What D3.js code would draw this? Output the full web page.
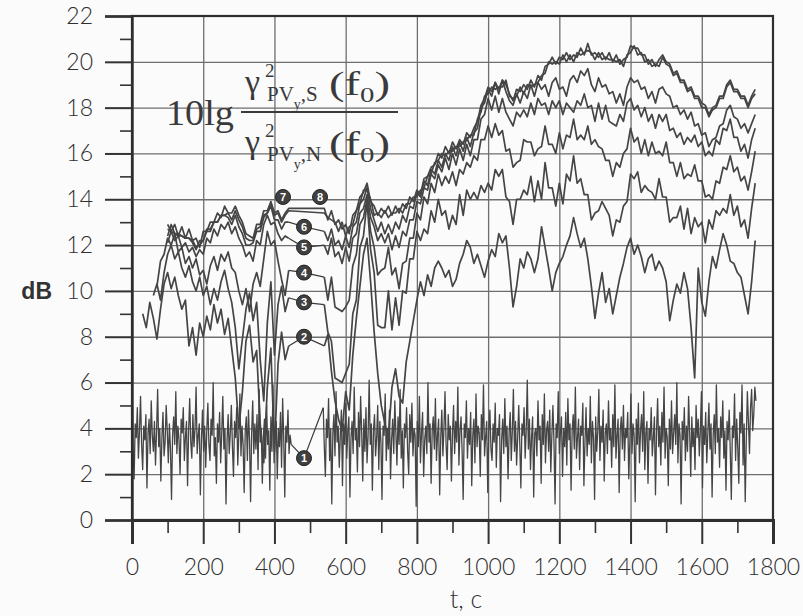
<!DOCTYPE html>
<html>
<head>
<meta charset="utf-8">
<script src="https://cdn.jsdelivr.net/npm/d3@7"></script>
<style>
  body { margin: 0; background: #fbfbfb; }
  svg { display: block; }
</style>
</head>
<body>
<div id="chart"></div>
<script>
// axis ticks
var xTicks = [0, 200, 400, 600, 800, 1000, 1200, 1400, 1600, 1800];
var xMinor = [100, 300, 500, 700, 900, 1100, 1300, 1500, 1700];
var yTicks = [0, 2, 4, 6, 8, 10, 12, 14, 16, 18, 20, 22];
var yMinor = [1, 3, 5, 7, 9, 11, 13, 15, 17, 19, 21];

// curve 1 (noise), 3 s step: piece A from 0 s, piece B from 537 s
var line1Step = 3;
var line1Starts = [0, 537];
var line1A = [
  5.9, 3.1, 1.8, 4.2, 3.6, 4.9, 2.7, 3.9, 5.4, 3.3,
  2.2, 4.1, 3.5, 4.6, 1.4, 3.8, 4.4, 2.9, 5.2, 3.7,
  3.0, 4.3, 2.4, 3.9, 5.7, 3.2, 4.0, 1.7, 3.6, 4.7,
  2.8, 3.4, 5.0, 3.9, 2.5, 4.2, 3.1, 0.9, 3.7, 4.5,
  3.3, 5.6, 2.9, 4.1, 3.5, 2.0, 4.4, 3.8, 4.9, 2.6,
  3.6, 4.3, 1.5, 3.9, 5.3, 3.4, 2.7, 4.6, 3.2, 4.0,
  5.8, 2.9, 3.7, 4.2, 1.1, 3.5, 4.8, 3.0, 4.1, 2.3,
  3.9, 5.1, 3.3, 2.6, 4.4, 3.7, 6.0, 2.8, 3.6, 1.6,
  4.2, 3.4, 4.7, 2.5, 3.8, 5.4, 3.1, 4.0, 0.7, 3.5,
  4.6, 2.9, 3.8, 5.0, 3.2, 1.9, 4.3, 3.6, 4.9, 2.4,
  3.7, 5.5, 2.8, 4.1, 3.3, 1.2, 3.9, 4.5, 2.6, 4.8,
  3.5, 0.8, 3.8, 5.2, 2.9, 4.2, 3.1, 4.6, 2.2, 5.7,
  3.4, 4.0, 1.6, 3.7, 4.4, 2.7, 5.0, 3.3, 3.9, 1.3,
  4.5, 3.0, 5.9, 2.5, 3.8, 4.3, 1.8, 4.0, 3.2, 4.7,
  2.3, 5.3, 3.6, 1.0, 4.1, 3.4, 4.8, 2.9, 3.7, 3.3
];
var line1B = [
  4.9, 3.2, 1.9, 4.4, 3.6, 5.3, 2.6, 4.0, 0.7, 3.8,
  4.6, 2.8, 5.6, 3.4, 4.1, 2.3, 3.7, 4.8, 1.5, 4.2,
  3.3, 5.1, 2.7, 3.9, 4.5, 1.0, 3.6, 4.3, 2.9, 5.8,
  3.5, 4.0, 2.1, 4.7, 3.2, 5.4, 3.8, 1.7, 4.4, 3.0,
  4.9, 2.5, 3.7, 6.1, 3.3, 4.2, 1.3, 3.9, 4.6, 2.8,
  3.6, 5.0, 2.2, 4.3, 3.4, 0.9, 4.1, 3.7, 5.5, 2.6,
  4.0, 3.1, 4.8, 1.8, 3.5, 4.4, 2.9, 5.2, 3.8, 2.4,
  4.5, 3.3, 5.7, 2.7, 3.9, 1.4, 4.2, 3.6, 4.9, 3.0,
  2.0, 4.6, 3.4, 5.1, 2.8, 4.0, 3.7, 0.6, 4.3, 3.2,
  5.4, 2.5, 3.8, 4.7, 1.9, 3.5, 4.1, 2.9, 6.0, 3.4,
  4.2, 1.6, 3.9, 4.5, 3.1, 5.3, 2.6, 3.7, 4.4, 1.1,
  3.6, 4.8, 2.8, 4.0, 5.6, 3.3, 2.2, 4.6, 3.5, 4.1,
  1.7, 3.8, 5.0, 2.9, 4.3, 3.4, 5.8, 2.4, 3.9, 4.5,
  3.0, 0.9, 4.2, 3.6, 5.2, 2.7, 4.0, 3.3, 4.7, 1.5,
  3.7, 4.4, 2.5, 5.5, 3.2, 4.1, 3.8, 1.9, 4.6, 3.5,
  5.9, 2.8, 3.6, 4.3, 1.2, 3.9, 4.8, 3.1, 2.6, 4.2,
  3.4, 5.1, 2.3, 4.0, 3.7, 4.6, 0.8, 3.5, 4.4, 2.9,
  5.3, 3.2, 4.1, 1.8, 3.8, 4.7, 2.6, 3.9, 5.7, 3.0,
  4.3, 2.4, 3.6, 5.0, 3.3, 1.4, 4.2, 3.7, 4.9, 2.7,
  3.9, 6.1, 3.1, 4.4, 2.2, 3.6, 4.5, 1.0, 3.8, 4.0,
  2.8, 5.2, 3.5, 4.1, 1.6, 4.6, 3.3, 5.5, 2.5, 3.9,
  4.3, 3.0, 4.8, 2.1, 3.7, 5.0, 3.4, 0.7, 4.2, 3.6,
  5.6, 2.9, 3.8, 4.5, 1.9, 4.0, 3.2, 4.7, 2.4, 5.3,
  3.5, 4.2, 1.3, 3.9, 4.6, 3.1, 5.8, 2.7, 3.6, 4.4,
  2.2, 4.1, 3.7, 5.1, 1.5, 3.4, 4.9, 2.8, 4.0, 3.3,
  5.4, 2.5, 4.3, 3.6, 0.9, 4.5, 3.0, 3.9, 5.7, 2.6,
  4.1, 3.4, 4.8, 1.7, 3.8, 4.2, 2.9, 5.2, 3.5, 4.0,
  2.3, 4.6, 3.2, 5.9, 2.7, 3.7, 4.4, 1.2, 3.9, 4.5,
  3.1, 5.0, 2.6, 4.0, 3.6, 4.7, 1.8, 3.4, 5.5, 2.9,
  4.2, 3.7, 0.8, 4.4, 3.3, 5.1, 2.5, 3.9, 4.6, 3.0,
  5.6, 2.2, 3.8, 4.3, 1.6, 4.0, 3.5, 4.9, 2.8, 3.6,
  4.5, 1.1, 3.9, 5.3, 3.2, 4.1, 2.4, 4.7, 3.4, 5.8,
  2.7, 4.0, 3.6, 1.5, 4.4, 3.1, 5.2, 2.9, 3.8, 4.6,
  3.3, 6.0, 2.5, 4.2, 3.7, 0.7, 4.3, 3.5, 4.9, 2.6,
  4.1, 3.0, 5.4, 3.8, 1.9, 4.5, 3.2, 4.0, 2.2, 5.0,
  3.6, 4.4, 2.8, 3.9, 5.6, 1.4, 4.1, 3.3, 4.7, 2.5,
  3.8, 5.1, 3.1, 4.2, 1.0, 3.7, 4.6, 2.9, 5.9, 3.4,
  4.0, 2.3, 4.5, 3.6, 5.2, 2.7, 3.9, 1.3, 4.3, 3.5,
  4.8, 3.0, 0.9, 4.1, 3.6, 5.5, 2.6, 4.4, 3.2, 1.6,
  4.7, 3.8, 5.9, 2.4, 4.2, 0.8, 3.5, 5.6, 4.3, 2.9,
  4.9, 5.7, 3.9, 4.6, 5.8, 5.2
];

// curves 2..8, 10 s step. left piece starts at leftStart and ends at 440 s,
// right piece runs 540..1750 s. curves 7 and 8 run on through the gap.
var curveIds = [2, 3, 4, 5, 6, 7, 8];
var leftStart = [30, 60, 70, 100, 100, 100, 100];
var rightStart = 540;
var upStep = 10;
var bridged = [false, false, false, false, false, true, true];

var line2Left = [
  9.0, 8.4, 9.5, 8.8, 7.9, 9.2, 10.3, 10.8, 10.1, 10.6,
  9.8, 9.2, 9.6, 7.6, 8.4, 7.2, 8.6, 8.0, 8.9, 8.3,
  9.4, 8.6, 9.2, 8.1, 8.8, 7.5, 6.2, 4.0, 5.6, 7.8,
  8.5, 6.9, 7.4, 4.2, 2.5, 5.8, 7.5, 3.0, 6.8, 8.2,
  7.0, 7.6
];
var line3Left = [
  9.8, 10.3, 9.6, 10.8, 11.6, 12.0, 11.4, 11.7, 11.0, 10.6,
  11.1, 10.4, 10.0, 10.6, 9.8, 10.2, 9.4, 10.1, 9.6, 10.4,
  10.9, 10.1, 9.5, 8.4, 6.6, 7.9, 9.2, 9.9, 8.7, 9.5,
  7.0, 5.2, 8.6, 10.4, 7.2, 9.4, 10.2, 9.1, 9.7
];
var line4Left = [
  10.2, 11.3, 11.6, 12.3, 12.0, 12.5, 11.7, 11.9, 11.2, 11.5,
  11.0, 11.4, 10.7, 10.9, 10.3, 11.1, 11.5, 10.9, 11.6, 11.3,
  11.7, 11.0, 10.8, 10.0, 9.4, 10.1, 9.1, 10.3, 10.8, 10.2,
  11.4, 12.6, 12.0, 12.2, 11.3, 10.5, 9.8, 10.9
];
var line5Left = [
  12.1, 12.6, 12.2, 12.4, 11.9, 12.1, 11.7, 11.9, 11.5, 11.8,
  11.6, 12.3, 12.1, 12.7, 12.4, 12.9, 12.7, 13.0, 12.5, 12.8,
  12.3, 12.0, 11.5, 11.7, 11.3, 12.2, 12.0, 12.9, 13.3, 12.9,
  13.0, 12.5, 12.2, 12.4, 12.3
];
var line6Left = [
  12.4, 12.9, 12.5, 12.4, 12.4, 12.3, 12.3, 12.1, 11.8, 12.2,
  12.2, 12.7, 12.7, 13.0, 13.0, 13.3, 13.3, 13.2, 12.9, 13.3,
  12.8, 12.5, 12.0, 12.0, 12.1, 12.6, 12.6, 13.2, 13.4, 13.7,
  13.1, 13.1, 12.7, 13.0, 13.0
];
var line7Left = [
  12.7, 12.6, 12.5, 12.5, 12.4, 12.3, 12.3, 12.2, 11.9, 12.0,
  12.2, 12.6, 12.6, 13.0, 13.0, 13.3, 13.3, 13.4, 13.1, 13.5,
  13.1, 12.8, 12.3, 12.2, 12.2, 12.7, 12.8, 13.3, 13.4, 13.8,
  13.3, 13.4, 13.0, 13.3, 13.5
];
var line8Left = [
  12.9, 12.6, 12.9, 12.4, 12.8, 12.3, 12.7, 12.2, 12.3, 11.9,
  12.6, 12.6, 13.0, 13.0, 13.4, 13.2, 13.7, 13.4, 13.4, 13.7,
  13.3, 13.0, 12.5, 12.4, 12.3, 12.9, 12.9, 13.5, 13.5, 13.9,
  13.4, 13.5, 13.1, 13.4, 13.6
];

var line2Right = [
  7.6, 8.1, 6.5, 5.2, 4.4, 3.9, 5.6, 4.8, 7.2, 8.8,
  10.2, 11.6, 12.3, 10.4, 8.2, 6.4, 5.0, 4.2, 3.6, 5.8,
  6.6, 5.4, 5.1, 6.9, 7.8, 8.7, 9.6, 10.4, 9.8, 10.7,
  10.2, 11.0, 11.3, 11.0, 10.6, 10.9, 10.2, 10.5, 11.2, 11.6,
  12.2, 11.9, 11.2, 11.6, 11.1, 10.6, 11.3, 11.8, 11.5, 12.5,
  12.1, 12.4, 11.0, 9.3, 10.2, 11.4, 11.0, 11.7, 11.4, 10.8,
  11.4, 12.8, 11.9, 11.0, 10.0, 10.8, 11.2, 11.5, 12.0, 12.4,
  13.2, 12.5, 11.9, 12.3, 11.4, 10.2, 8.8, 9.9, 10.8, 9.5,
  10.1, 9.0, 9.8, 10.6, 11.2, 11.9, 12.3, 11.6, 12.0, 11.5,
  10.8, 11.4, 11.6, 10.9, 11.3, 11.0, 10.4, 8.7, 9.6, 10.3,
  9.9, 10.8, 10.1, 8.4, 6.2, 11.0, 9.5, 8.9, 10.4, 11.5,
  11.0, 11.8, 12.5, 12.0, 11.3, 11.2, 10.8, 10.6, 9.8, 9.0,
  10.4, 12.2
];
var line3Right = [
  9.4, 8.2, 7.8, 6.2, 6.1, 6.0, 6.4, 6.8, 9.0, 9.6,
  11.9, 12.4, 13.9, 11.8, 10.8, 8.5, 8.4, 8.4, 10.0, 8.3,
  9.7, 8.5, 10.0, 9.9, 11.4, 11.4, 12.6, 12.2, 12.7, 12.5,
  13.5, 13.0, 14.0, 13.3, 13.5, 12.7, 13.3, 12.9, 14.2, 13.3,
  14.4, 14.0, 14.3, 14.0, 14.6, 14.3, 14.7, 14.4, 15.3, 15.0,
  15.3, 14.1, 13.9, 12.9, 14.0, 14.0, 14.4, 14.2, 15.0, 13.9,
  14.8, 14.0, 15.6, 14.5, 14.5, 13.7, 14.7, 13.8, 15.1, 14.8,
  15.9, 14.7, 14.9, 14.2, 14.2, 13.1, 13.4, 13.5, 13.9, 13.6,
  13.3, 12.4, 13.1, 13.0, 13.7, 13.9, 15.1, 14.9, 15.2, 14.3,
  14.6, 14.4, 14.3, 14.0, 14.9, 14.1, 14.1, 13.0, 13.2, 13.2,
  13.7, 12.7, 13.6, 12.5, 13.2, 12.8, 13.0, 12.1, 13.1, 12.7,
  13.5, 13.3, 13.6, 13.4, 14.2, 13.3, 13.7, 12.8, 13.1, 12.3,
  13.6, 14.7
];
var line4Right = [
  10.6, 9.6, 10.6, 9.3, 9.2, 9.1, 9.3, 9.6, 11.1, 11.6,
  12.9, 13.2, 14.0, 12.6, 11.9, 10.7, 10.9, 11.0, 11.9, 10.7,
  11.0, 10.1, 11.2, 11.3, 12.3, 12.3, 13.4, 13.1, 14.1, 13.8,
  14.7, 14.3, 15.1, 14.6, 15.0, 14.7, 15.2, 14.6, 15.3, 15.1,
  15.6, 15.4, 15.9, 15.7, 16.6, 16.6, 17.2, 16.7, 17.3, 16.8,
  17.0, 16.1, 16.2, 15.4, 15.6, 15.7, 16.6, 16.5, 16.5, 15.9,
  16.2, 16.3, 17.2, 16.4, 16.4, 16.0, 16.9, 16.2, 16.8, 16.7,
  17.5, 16.6, 16.8, 16.6, 17.2, 16.4, 16.6, 16.3, 16.2, 15.7,
  15.7, 15.0, 15.6, 15.4, 16.0, 16.2, 17.1, 16.5, 16.7, 16.0,
  16.6, 15.9, 16.5, 16.0, 16.1, 15.9, 16.5, 15.6, 15.6, 15.0,
  15.6, 14.9, 15.1, 15.0, 15.5, 14.8, 14.8, 14.1, 14.2, 14.0,
  14.8, 14.7, 15.4, 15.3, 15.9, 15.2, 15.4, 14.8, 15.0, 14.4,
  15.2, 16.1
];
var line5Right = [
  12.0, 11.6, 12.3, 11.5, 11.7, 11.2, 11.9, 11.3, 12.3, 12.5,
  13.4, 13.6, 14.2, 13.2, 12.8, 12.2, 12.5, 12.1, 12.5, 11.8,
  12.4, 11.9, 12.6, 12.4, 13.1, 13.1, 13.9, 13.8, 14.5, 14.4,
  15.1, 14.9, 15.5, 15.2, 15.8, 15.3, 16.0, 15.5, 16.2, 15.7,
  16.4, 15.9, 16.6, 16.6, 17.5, 17.7, 18.4, 17.9, 18.5, 17.8,
  18.4, 17.8, 17.5, 17.2, 17.8, 17.6, 17.9, 17.6, 18.2, 17.7,
  18.4, 18.1, 18.2, 17.7, 18.3, 18.0, 18.3, 17.7, 18.2, 18.0,
  17.8, 18.3, 18.1, 18.6, 18.0, 18.1, 17.4, 18.2, 17.5, 18.1,
  17.4, 17.3, 17.2, 17.7, 17.4, 18.2, 18.4, 17.9, 18.1, 17.6,
  18.0, 17.4, 17.7, 17.1, 17.7, 17.4, 17.7, 17.0, 17.1, 16.7,
  16.9, 16.4, 16.7, 16.5, 16.8, 16.3, 16.5, 15.9, 16.1, 15.9,
  16.6, 16.4, 17.1, 17.0, 17.5, 16.7, 16.7, 16.1, 16.4, 15.8,
  16.6, 17.1
];
var line6Right = [
  12.6, 12.2, 12.7, 12.0, 12.2, 11.8, 12.4, 11.9, 12.8, 13.0,
  13.8, 14.0, 14.5, 13.6, 13.1, 12.6, 13.0, 12.5, 12.9, 12.5,
  13.0, 12.7, 13.3, 13.0, 13.7, 13.6, 14.3, 14.1, 14.8, 14.6,
  15.3, 15.1, 15.7, 15.4, 16.0, 15.7, 16.3, 15.9, 16.5, 16.1,
  16.7, 16.3, 16.9, 17.1, 18.0, 18.2, 18.8, 18.5, 19.1, 18.6,
  19.2, 18.7, 18.3, 18.1, 18.6, 18.2, 18.7, 18.4, 19.0, 18.5,
  19.1, 18.8, 19.0, 18.5, 19.1, 19.3, 18.8, 18.9, 18.5, 19.2,
  19.4, 19.1, 19.6, 19.4, 19.7, 19.0, 18.7, 19.3, 18.9, 19.0,
  18.6, 18.7, 18.2, 18.6, 18.1, 18.9, 19.3, 19.1, 19.2, 18.8,
  18.9, 18.4, 18.7, 18.2, 18.8, 18.9, 18.6, 18.5, 18.0, 18.1,
  17.7, 17.9, 17.5, 17.8, 17.2, 17.3, 16.8, 16.9, 16.3, 16.6,
  16.7, 17.2, 17.3, 17.9, 18.1, 17.6, 17.5, 17.1, 17.3, 16.9,
  17.3, 17.7
];
var line7Right = [
  13.4, 13.2, 13.1, 13.0, 12.6, 13.0, 12.4, 12.8, 12.9, 13.5,
  13.8, 14.4, 14.4, 14.0, 13.3, 13.4, 13.2, 13.5, 13.2, 13.4,
  13.4, 13.6, 13.4, 13.8, 13.8, 14.1, 14.1, 14.4, 14.5, 15.0,
  15.1, 15.6, 15.7, 16.0, 15.9, 16.1, 16.1, 16.3, 16.3, 16.5,
  16.6, 16.8, 16.8, 17.5, 17.8, 18.5, 18.6, 18.9, 18.8, 18.9,
  18.9, 19.2, 18.5, 18.4, 18.5, 18.9, 18.6, 19.0, 18.9, 19.0,
  19.1, 19.4, 19.5, 20.0, 19.9, 20.0, 19.9, 20.3, 20.0, 20.3,
  20.0, 20.4, 20.3, 20.4, 20.5, 20.4, 20.1, 20.4, 20.1, 20.2,
  20.1, 20.1, 20.0, 20.1, 19.8, 20.3, 20.4, 20.7, 20.3, 20.4,
  20.0, 20.1, 19.8, 19.9, 19.8, 20.2, 19.9, 19.8, 19.4, 19.5,
  19.1, 19.1, 18.7, 18.8, 18.4, 18.4, 18.0, 18.0, 17.6, 17.9,
  18.0, 18.4, 18.4, 18.9, 19.1, 18.7, 18.7, 18.4, 18.4, 18.0,
  18.4, 18.6
];
var line8Right = [
  13.6, 13.1, 13.5, 12.9, 13.1, 12.7, 12.9, 12.5, 13.3, 13.5,
  14.1, 14.3, 14.7, 13.9, 13.7, 13.3, 13.6, 13.4, 13.7, 13.3,
  13.7, 13.4, 13.8, 13.6, 14.1, 13.9, 14.4, 14.2, 14.9, 15.0,
  15.4, 15.5, 16.0, 15.8, 16.3, 16.0, 16.5, 16.2, 16.6, 16.4,
  16.9, 16.7, 17.1, 17.4, 18.1, 18.4, 18.9, 18.7, 19.1, 18.8,
  19.2, 19.0, 18.6, 18.3, 18.8, 18.7, 19.0, 18.8, 19.2, 18.9,
  19.4, 19.2, 19.8, 19.9, 20.2, 19.9, 20.2, 20.1, 20.4, 20.1,
  20.3, 20.2, 20.6, 20.3, 20.8, 20.3, 20.4, 20.2, 20.4, 20.1,
  20.4, 20.0, 20.3, 19.9, 20.1, 20.2, 20.7, 20.6, 20.6, 20.3,
  20.3, 19.9, 20.1, 19.8, 20.1, 20.3, 20.0, 19.9, 19.5, 19.6,
  19.2, 19.2, 18.8, 18.9, 18.5, 18.5, 18.2, 18.1, 17.7, 18.0,
  18.1, 18.5, 18.5, 19.0, 19.2, 18.8, 18.8, 18.5, 18.5, 18.1,
  18.5, 18.8
];

var leftPieces = [line2Left, line3Left, line4Left, line5Left, line6Left, line7Left, line8Left];
var rightPieces = [line2Right, line3Right, line4Right, line5Right, line6Right, line7Right, line8Right];

// numbered markers (t in s, value in dB)
var markerIds = ["1", "2", "3", "4", "5", "6", "7", "8"];
var markerT = [483, 483, 483, 483, 483, 483, 424, 528];
var markerV = [2.7, 8.0, 9.5, 10.8, 11.9, 12.8, 14.1, 14.1];

var width = 803, height = 616;

var svg = d3.select("#chart").append("svg")
    .attr("width", width)
    .attr("height", height);

svg.append("rect")
    .attr("width", width).attr("height", height)
    .attr("fill", "#fbfbfb");

var x = d3.scaleLinear().domain([0, 1800]).range([132, 773]);
var y = d3.scaleLinear().domain([0, 22]).range([520, 16]);

var tickFont = "Lato, 'Liberation Sans', sans-serif";

// grid
svg.append("g")
    .attr("transform", `translate(0,${y(0)})`)
    .call(d3.axisBottom(x).tickValues(xTicks.slice(1, -1)).tickSize(-(y(0) - y(22))).tickFormat(""))
    .call(g => g.select(".domain").remove())
    .call(g => g.selectAll(".tick line").attr("stroke", "#6e6e6e").attr("stroke-width", 1.3));

svg.append("g")
    .attr("transform", `translate(${x(0)},0)`)
    .call(d3.axisLeft(y).tickValues(yTicks.slice(1, -1)).tickSize(-(x(1800) - x(0))).tickFormat(""))
    .call(g => g.select(".domain").remove())
    .call(g => g.selectAll(".tick line").attr("stroke", "#6e6e6e").attr("stroke-width", 1.3));

// curves
var line = d3.line()
    .x(d => x(d.t))
    .y(d => y(d.v));

var curves = svg.append("g")
    .attr("fill", "none")
    .attr("stroke", "#454545")
    .attr("stroke-linejoin", "round");

function piece(vals, t0, step) {
  return vals.map((v, i) => ({t: t0 + i * step, v: v}));
}

var l1a = piece(line1A, line1Starts[0], line1Step);
var l1b = piece(line1B, line1Starts[1], line1Step);
curves.append("path").datum(l1a).attr("stroke-width", 1.3).attr("d", line);
curves.append("path").datum(l1b).attr("stroke-width", 1.3).attr("d", line);

var pieceEnds = {};
pieceEnds["1"] = [l1a[l1a.length - 1], l1b[0]];

curveIds.forEach(function(id, k) {
  var left = piece(leftPieces[k], leftStart[k], upStep);
  var right = piece(rightPieces[k], rightStart, upStep);
  if (bridged[k]) {
    curves.append("path").datum(left.concat(right))
        .attr("stroke-width", 1.7).attr("d", line);
  } else {
    curves.append("path").datum(left).attr("stroke-width", 1.7).attr("d", line);
    curves.append("path").datum(right).attr("stroke-width", 1.7).attr("d", line);
    pieceEnds[String(id)] = [left[left.length - 1], right[0]];
  }
});

// leaders from marker to both pieces of its curve
var leaders = svg.append("g")
    .attr("fill", "none")
    .attr("stroke", "#3a3a3a")
    .attr("stroke-width", 1.2);

markerIds.forEach(function(id, i) {
  var ends = pieceEnds[id];
  if (!ends) return;
  var m = {t: markerT[i], v: markerV[i]};
  leaders.append("path").datum([ends[0], m, ends[1]]).attr("d", line);
});

// frame
svg.append("rect")
    .attr("x", x(0)).attr("y", y(22))
    .attr("width", x(1800) - x(0)).attr("height", y(0) - y(22))
    .attr("fill", "none")
    .attr("stroke", "#2e2e2e")
    .attr("stroke-width", 2.2);

// y axis
svg.append("g")
    .attr("transform", `translate(${x(0)},0)`)
    .call(d3.axisLeft(y).tickValues(yMinor).tickSize(12).tickFormat(""))
    .call(g => g.select(".domain").remove())
    .call(g => g.selectAll(".tick line").attr("stroke", "#333").attr("stroke-width", 1.6));

svg.append("g")
    .attr("transform", `translate(${x(0)},0)`)
    .call(d3.axisLeft(y).tickValues(yTicks).tickSize(27).tickPadding(12).tickFormat(d3.format("d")))
    .call(g => g.select(".domain").attr("stroke", "#2e2e2e").attr("stroke-width", 2.4))
    .call(g => g.selectAll(".tick line").attr("stroke", "#333").attr("stroke-width", 2))
    .call(g => g.selectAll(".tick text")
        .attr("fill", "#2f2f2f")
        .style("font", "300 23px " + tickFont));

// x axis
svg.append("g")
    .attr("transform", `translate(0,${y(0)})`)
    .call(d3.axisBottom(x).tickValues(xMinor).tickSize(13).tickFormat(""))
    .call(g => g.select(".domain").remove())
    .call(g => g.selectAll(".tick line").attr("stroke", "#333").attr("stroke-width", 1.6));

svg.append("g")
    .attr("transform", `translate(0,${y(0)})`)
    .call(d3.axisBottom(x).tickValues(xTicks).tickSize(24).tickPadding(15).tickFormat(d3.format("d")))
    .call(g => g.select(".domain").attr("stroke", "#2e2e2e").attr("stroke-width", 3))
    .call(g => g.selectAll(".tick line").attr("stroke", "#333").attr("stroke-width", 2))
    .call(g => g.selectAll(".tick text")
        .attr("fill", "#2f2f2f")
        .style("font", "300 23px " + tickFont));

// axis titles
svg.append("text")
    .attr("x", 466).attr("y", 608)
    .attr("text-anchor", "middle")
    .attr("fill", "#2f2f2f")
    .style("font", "300 25px " + tickFont)
    .text("t, c");

svg.append("text")
    .attr("x", 52).attr("y", y(10) + 8)
    .attr("text-anchor", "end")
    .attr("fill", "#333")
    .style("font", "bold 23px 'Liberation Sans', Arial, sans-serif")
    .text("dB");

// formula
var serif = "'Liberation Serif', 'DejaVu Serif', serif";
var fml = svg.append("g").attr("fill", "#3a3a3a").style("font-family", serif);

fml.append("text").attr("x", 166).attr("y", 125)
    .attr("textLength", 68).attr("lengthAdjust", "spacingAndGlyphs")
    .style("font-size", "36px").text("10lg");

fml.append("line")
    .attr("x1", 241).attr("x2", 398).attr("y1", 112).attr("y2", 112)
    .attr("stroke", "#3a3a3a").attr("stroke-width", 2);

function fracPart(base, sub) {
  fml.append("text").attr("x", 245).attr("y", base - 2)
      .style("font-size", "34px").text("\u03b3");
  fml.append("text").attr("x", 265).attr("y", base - 18)
      .style("font-size", "19px").text("2");
  var s = fml.append("text").attr("x", 267).attr("y", base + 6)
      .style("font-size", "21px");
  s.append("tspan").text("PV");
  s.append("tspan").attr("dy", 8).style("font-size", "14px").text("y");
  s.append("tspan").attr("dy", -8).text("," + sub);
  var f = fml.append("text").attr("x", 329).attr("y", base)
      .attr("textLength", 61).attr("lengthAdjust", "spacingAndGlyphs")
      .style("font-size", "34px");
  f.append("tspan").text("(f");
  f.append("tspan").attr("dy", 7).style("font-size", "21px").text("0");
  f.append("tspan").attr("dy", -7).text(")");
}
fracPart(95, "S");
fracPart(155, "N");

// markers
var mk = svg.append("g");
markerIds.forEach(function(id, i) {
  var g = mk.append("g")
      .attr("transform", `translate(${x(markerT[i])},${y(markerV[i])})`);
  g.append("circle").attr("r", 7.5)
      .attr("fill", "#404040").attr("stroke", "#222").attr("stroke-width", 1);
  g.append("text").attr("text-anchor", "middle").attr("dy", "0.36em")
      .attr("fill", "#fff")
      .style("font", "bold 11px 'Liberation Sans', Arial, sans-serif")
      .text(id);
});
</script>
</body>
</html>
